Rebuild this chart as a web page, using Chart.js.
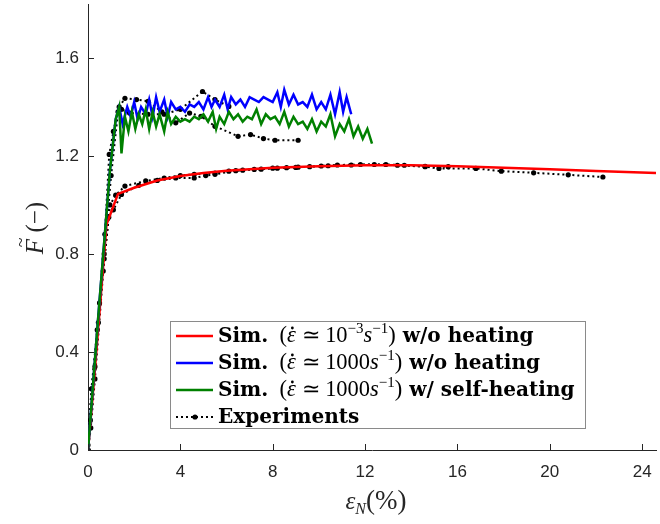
<!DOCTYPE html>
<html>
<head>
<meta charset="utf-8">
<script src="https://cdn.jsdelivr.net/npm/chart.js@4.4.0/dist/chart.umd.min.js"></script>
<style>
  body { margin: 0; background: #fff; }
  canvas { display: block; }
</style>
</head>
<body>
<canvas id="forceChart" width="660" height="524"></canvas>
<script>
// --- data ---

const xTicks = [0, 4, 8, 12, 16, 20, 24];
const yTicks = [0, 0.4, 0.8, 1.2, 1.6];

// quasi-static simulation (red)
const redX = [0, 0.3, 0.8, 1.3, 2, 3, 4, 5, 6, 8, 10, 12, 14, 16, 18, 20, 22, 24.6];
const redY = [0, 0.33, 0.92, 1.045, 1.07, 1.1, 1.118, 1.13, 1.14, 1.152, 1.158, 1.162, 1.162, 1.158, 1.152, 1.146, 1.139, 1.13];

// dynamic simulation, no heating (blue)
const blueX = [0, 0.45, 0.95, 1.2, 1.35, 1.5, 1.7, 1.85, 2.0, 2.15, 2.3, 2.5, 2.65, 2.8, 2.95, 3.1, 3.3, 3.45, 3.6, 3.8,
  4.0, 4.2, 4.4, 4.6, 4.8, 5.0, 5.2, 5.35, 5.5, 5.7, 5.9, 6.05, 6.2, 6.4, 6.6, 6.8, 7.0, 7.2, 7.4, 7.6,
  7.8, 8.0, 8.2, 8.35, 8.5, 8.7, 8.9, 9.1, 9.3, 9.5, 9.7, 9.9, 10.1, 10.3, 10.5, 10.7, 10.9, 11.05, 11.2, 11.4];
const blueY = [0, 0.55, 1.14, 1.35, 1.40, 1.33, 1.40, 1.36, 1.42, 1.35, 1.40, 1.37, 1.43, 1.36, 1.44, 1.38, 1.43, 1.36, 1.42, 1.39,
  1.40, 1.38, 1.41, 1.40, 1.42, 1.39, 1.44, 1.40, 1.43, 1.40, 1.45, 1.39, 1.44, 1.41, 1.43, 1.40, 1.44, 1.43, 1.42, 1.44,
  1.43, 1.42, 1.46, 1.40, 1.47, 1.41, 1.45, 1.41, 1.42, 1.40, 1.45, 1.39, 1.42, 1.39, 1.45, 1.37, 1.46, 1.38, 1.44, 1.37];

// dynamic simulation with self-heating (green)
const greenX = [0, 0.45, 0.95, 1.2, 1.35, 1.45, 1.6, 1.75, 1.9, 2.05, 2.2, 2.35, 2.5, 2.65, 2.8, 2.95, 3.1, 3.3, 3.45, 3.6,
  3.8, 4.0, 4.2, 4.4, 4.6, 4.8, 5.0, 5.2, 5.4, 5.55, 5.7, 5.9, 6.1, 6.3, 6.5, 6.7, 6.9, 7.1, 7.3, 7.5,
  7.7, 7.9, 8.1, 8.3, 8.5, 8.7, 8.9, 9.1, 9.3, 9.5, 9.7, 9.9, 10.1, 10.3, 10.5, 10.7, 10.9, 11.1, 11.3, 11.5,
  11.7, 11.9, 12.1, 12.3];
const greenY = [0, 0.55, 1.14, 1.35, 1.40, 1.21, 1.36, 1.30, 1.38, 1.31, 1.37, 1.33, 1.39, 1.31, 1.38, 1.32, 1.37, 1.30, 1.38, 1.33,
  1.36, 1.34, 1.35, 1.34, 1.36, 1.35, 1.37, 1.34, 1.38, 1.31, 1.36, 1.33, 1.38, 1.35, 1.37, 1.34, 1.36, 1.35, 1.39, 1.33,
  1.37, 1.35, 1.36, 1.33, 1.38, 1.32, 1.36, 1.33, 1.34, 1.31, 1.35, 1.30, 1.34, 1.32, 1.37, 1.28, 1.33, 1.30, 1.35, 1.28,
  1.32, 1.27, 1.31, 1.25];

// experiments, quasi-static
const expQ1X = [0, 0.15, 0.4, 0.7, 0.95, 1.2, 1.6, 2.5, 3.3, 4.0, 4.6, 5.5, 6.1, 6.7, 7.5, 8.2, 9.0, 9.6, 10.1, 10.8, 11.8, 12.9, 13.7, 14.6, 15.6];
const expQ1Y = [0.02, 0.25, 0.49, 0.78, 1.0, 1.04, 1.077, 1.098, 1.11, 1.12, 1.125, 1.13, 1.138, 1.142, 1.146, 1.15, 1.153, 1.156, 1.159, 1.163, 1.165, 1.165, 1.162, 1.157, 1.156];
const expQ2X = [0, 0.12, 0.3, 0.66, 0.9, 1.1, 1.45, 2.2, 3.0, 3.8, 4.6, 5.1, 5.5, 6.4, 7.2, 8.0, 8.6, 9.1, 10.4, 11.4, 12.4, 13.4, 14.6, 15.2, 16.8, 17.9, 19.3, 20.8, 22.3];
const expQ2Y = [0, 0.09, 0.29, 0.73, 0.95, 0.98, 1.043, 1.08, 1.1, 1.11, 1.11, 1.12, 1.125, 1.14, 1.145, 1.15, 1.152, 1.154, 1.16, 1.163, 1.165, 1.162, 1.156, 1.149, 1.149, 1.138, 1.131, 1.123, 1.114];

// experiments, dynamic
const expD1X = [0, 0.1, 0.3, 0.5, 0.73, 0.92, 1.1, 1.35, 1.6, 2.1, 2.6, 3.2, 3.8, 4.4, 4.9, 5.5, 6.5, 7.04, 7.6, 8.1, 9.1];
const expD1Y = [0, 0.12, 0.34, 0.6, 0.88, 1.206, 1.3, 1.40, 1.435, 1.43, 1.423, 1.38, 1.335, 1.375, 1.362, 1.321, 1.28, 1.287, 1.271, 1.264, 1.264];
const expD2X = [0, 0.16, 0.45, 0.7, 1.0, 1.3, 1.45, 1.8, 2.6, 3.3, 4.0, 4.96, 5.5, 6.1];
const expD2Y = [0, 0.25, 0.52, 0.8, 1.12, 1.38, 1.39, 1.375, 1.37, 1.37, 1.39, 1.463, 1.43, 1.402];

// --- helpers ---

function pts(xs, ys) {
  return xs.map((x, i) => ({ x: x, y: ys[i] }));
}

const tickColor = '#262626';

function simSet(label, xs, ys, color, order) {
  return {
    label: label,
    data: pts(xs, ys),
    showLine: true,
    borderColor: color,
    borderWidth: 2.5,
    pointRadius: 0,
    fill: false,
    tension: 0,
    order: order
  };
}

function expSet(xs, ys) {
  return {
    label: 'Experiments',
    data: pts(xs, ys),
    showLine: true,
    borderColor: '#000',
    borderWidth: 2,
    borderDash: [2, 3],
    pointRadius: 2.6,
    pointBackgroundColor: '#000',
    pointBorderWidth: 0,
    fill: false,
    tension: 0,
    order: 5
  };
}

// --- custom drawing: inward ticks, legend, axis titles ---

// draws text pieces left to right; a run with dot set gets a dot accent
function drawRuns(ctx, x, y, runs) {
  runs.forEach(r => {
    ctx.font = r.f;
    ctx.fillText(r.t, x, y + (r.dy || 0));
    const w = ctx.measureText(r.t).width;
    if (r.dot) {
      ctx.beginPath();
      ctx.arc(x + w * 0.6, y - r.dot, 1.4, 0, Math.PI * 2);
      ctx.fill();
    }
    x += w;
  });
  return x;
}

function runsWidth(ctx, runs) {
  let w = 0;
  runs.forEach(r => { ctx.font = r.f; w += ctx.measureText(r.t).width; });
  return w;
}

function legendRows(fs) {
  const ms = fs * 1.12;
  const B = 'bold ' + fs + 'px "DejaVu Serif"';
  const N = ms + 'px "Liberation Serif"';
  const I = 'italic ' + ms + 'px "Liberation Serif"';
  const S = Math.round(ms * 0.68) + 'px "Liberation Serif"';
  const up = -Math.round(ms * 0.38);
  const dot = Math.round(ms * 0.62);
  return [
    { color: 'rgb(255,0,0)', runs: [{ t: 'Sim.', f: B }, { t: '  (', f: N }, { t: 'ε', f: I, dot: dot }, { t: ' ≃ 10', f: N }, { t: '−3', f: S, dy: up }, { t: 's', f: I }, { t: '−1', f: S, dy: up }, { t: ')', f: N }, { t: ' w/o heating', f: B }] },
    { color: 'rgb(0,0,255)', runs: [{ t: 'Sim.', f: B }, { t: '  (', f: N }, { t: 'ε', f: I, dot: dot }, { t: ' ≃ 1000', f: N }, { t: 's', f: I }, { t: '−1', f: S, dy: up }, { t: ')', f: N }, { t: ' w/o heating', f: B }] },
    { color: 'rgb(0,128,0)', runs: [{ t: 'Sim.', f: B }, { t: '  (', f: N }, { t: 'ε', f: I, dot: dot }, { t: ' ≃ 1000', f: N }, { t: 's', f: I }, { t: '−1', f: S, dy: up }, { t: ')', f: N }, { t: ' w/ self-heating', f: B }] },
    { color: null, runs: [{ t: 'Experiments', f: B }] }
  ];
}

const decor = {
  id: 'decor',
  afterDraw(chart) {
    const ctx = chart.ctx;
    const area = chart.chartArea;
    const xs = chart.scales.x;
    const ys = chart.scales.y;
    ctx.save();

    // inward tick marks
    ctx.strokeStyle = tickColor;
    ctx.lineWidth = 1;
    ctx.beginPath();
    xTicks.forEach(v => {
      const px = Math.round(xs.getPixelForValue(v)) + 0.5;
      ctx.moveTo(px, area.bottom);
      ctx.lineTo(px, area.bottom - 6);
    });
    yTicks.forEach(v => {
      const py = Math.round(ys.getPixelForValue(v)) + 0.5;
      ctx.moveTo(area.left, py);
      ctx.lineTo(area.left + 6, py);
    });
    ctx.stroke();

    // legend box
    const bx = 170, by = 321, bw = 415, bh = 107;
    ctx.fillStyle = '#fff';
    ctx.fillRect(bx, by, bw, bh);
    ctx.strokeStyle = '#8a8a8a';
    ctx.strokeRect(bx + 0.5, by + 0.5, bw, bh);

    // size legend text so the longest row spans the box like the original
    let fs = 17;
    const w3 = runsWidth(ctx, legendRows(fs)[2].runs);
    fs = Math.min(21, fs * 358 / w3);
    const rows = legendRows(fs);

    ctx.textBaseline = 'alphabetic';
    ctx.textAlign = 'left';
    rows.forEach((row, i) => {
      const cy = 336 + i * 27;
      if (row.color) {
        ctx.strokeStyle = row.color;
        ctx.lineWidth = 2.5;
        ctx.setLineDash([]);
        ctx.beginPath();
        ctx.moveTo(176, cy);
        ctx.lineTo(213, cy);
        ctx.stroke();
      } else {
        ctx.strokeStyle = '#000';
        ctx.lineWidth = 2;
        ctx.setLineDash([2, 3]);
        ctx.beginPath();
        ctx.moveTo(176, cy);
        ctx.lineTo(213, cy);
        ctx.stroke();
        ctx.setLineDash([]);
        ctx.fillStyle = '#000';
        ctx.beginPath();
        ctx.arc(195, cy, 2.6, 0, Math.PI * 2);
        ctx.fill();
      }
      ctx.fillStyle = '#000';
      drawRuns(ctx, 218, cy + 6, row.runs);
    });

    // y axis title
    ctx.fillStyle = tickColor;
    ctx.save();
    ctx.translate(43, 228);
    ctx.rotate(-Math.PI / 2);
    ctx.textBaseline = 'alphabetic';
    ctx.font = 'italic 25px "Liberation Serif"';
    const fW = ctx.measureText('F').width;
    ctx.font = '25px "Liberation Serif"';
    const pW = ctx.measureText(' (−)').width;
    const tx = -(fW + pW) / 2;
    ctx.font = 'italic 25px "Liberation Serif"';
    ctx.fillText('F', tx, 0);
    ctx.font = '18px "Liberation Serif"';
    ctx.fillText('~', tx + 7, -16);
    ctx.font = '25px "Liberation Serif"';
    ctx.fillText(' (−)', tx + fW, 0);
    ctx.restore();

    // x axis title
    ctx.textBaseline = 'alphabetic';
    const xRuns = [{ t: 'ε', f: 'italic 25px "Liberation Serif"' }, { t: 'N', f: 'italic 16px "Liberation Serif"', dy: 5 }, { t: '(%)', f: '27px "Liberation Serif"' }];
    const w = runsWidth(ctx, xRuns);
    drawRuns(ctx, 376 - w / 2, 509, xRuns);

    ctx.restore();
  }
};

// --- chart ---

const ctx = document.getElementById('forceChart').getContext('2d');
const forceChart = new Chart(ctx, {
  type: 'scatter',
  data: {
    datasets: [
      simSet('Sim. quasi-static w/o heating', redX, redY, 'rgb(255,0,0)', 3),
      simSet('Sim. 1000/s w/o heating', blueX, blueY, 'rgb(0,0,255)', 2),
      simSet('Sim. 1000/s w/ self-heating', greenX, greenY, 'rgb(0,128,0)', 1),
      expSet(expQ1X, expQ1Y),
      expSet(expQ2X, expQ2Y),
      expSet(expD1X, expD1Y),
      expSet(expD2X, expD2Y)
    ]
  },
  options: {
    responsive: false,
    animation: false,
    layout: { padding: { top: 2, right: 0, left: 0, bottom: 0 } },
    plugins: {
      legend: { display: false },
      tooltip: { enabled: false }
    },
    scales: {
      x: {
        type: 'linear',
        min: 0,
        max: 24.6,
        afterBuildTicks: s => { s.ticks = xTicks.map(v => ({ value: v })); },
        afterFit: s => { s.height = 74; s.paddingLeft = 0; s.paddingRight = 0; },
        grid: { display: false, drawTicks: false },
        border: { display: true, color: tickColor, width: 1 },
        ticks: {
          color: tickColor,
          font: { family: '"Liberation Sans"', size: 17 },
          padding: 12,
          maxRotation: 0,
          autoSkip: false
        }
      },
      y: {
        type: 'linear',
        min: 0,
        max: 1.82,
        afterBuildTicks: s => { s.ticks = yTicks.map(v => ({ value: v })); },
        afterFit: s => { s.width = 88; s.paddingTop = 0; s.paddingBottom = 0; },
        grid: { display: false, drawTicks: false },
        border: { display: true, color: tickColor, width: 1 },
        ticks: {
          color: tickColor,
          font: { family: '"Liberation Sans"', size: 17 },
          padding: 9,
          callback: v => (v === 0 ? '0' : v.toFixed(1))
        }
      }
    }
  },
  plugins: [decor]
});
</script>
</body>
</html>
